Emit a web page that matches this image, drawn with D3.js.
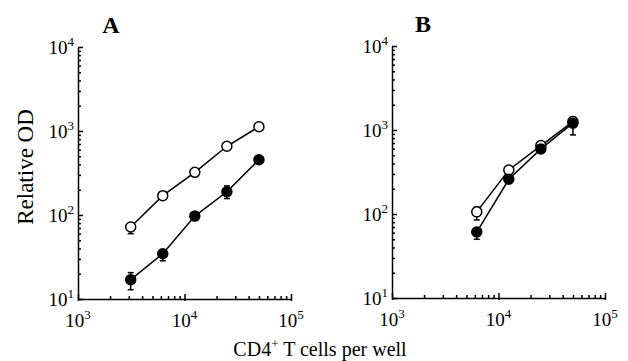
<!DOCTYPE html>
<html>
<head>
<meta charset="utf-8">
<script src="https://cdn.jsdelivr.net/npm/d3@7"></script>
<style>
  body { margin: 0; background: #fff; }
  svg { display: block; font-family: "Liberation Serif", "DejaVu Serif", serif; }
  .axis path, .axis line { stroke: #000; stroke-width: 1.5; }
</style>
</head>
<body>
<div id="chart"></div>
<script>
let width = 628;
let height = 361;

// cells per well
let cellsA = [3125, 6250, 12500, 25000, 50000];
let cellsB = [6250, 12500, 25000, 50000];

// relative OD, panel A
let openA = [72, 170, 322, 658, 1125];
let filledA = [17, 34.6, 97, 189, 455];
let openAErr = [[60, 78], null, null, null, null];
let filledAErr = [[12.9, 20.6], [28.5, 38], null, [157, 222], null];

// relative OD, panel B
let openB = [106, 334, 652, 1260];
let filledB = [61, 259, 596, 1205];
let openBErr = [[85, 121], null, null, [1100, 1420]];
let filledBErr = [[50, 66], null, null, [874, 1300]];

let decades = [3, 4, 5];
let yDecades = [1, 2, 3, 4];

let panels = [
    { label: 'A', left: 78, top: 47, cells: cellsA, open: openA, filled: filledA, openErr: openAErr, filledErr: filledAErr },
    { label: 'B', left: 392, top: 46, cells: cellsB, open: openB, filled: filledB, openErr: openBErr, filledErr: filledBErr }
];

let plotWidth = 213;
let plotHeight = 252;

let svg = d3.select('#chart')
    .append('svg')
    .attr('width', width)
    .attr('height', height);

let xScale = d3.scaleLog()
    .domain([1e3, 1e5])
    .range([0, plotWidth]);
let yScale = d3.scaleLog()
    .domain([10, 1e4])
    .range([plotHeight, 0]);

let minorX = [];
for (let e = 3; e < 5; e++) for (let m = 1; m < 10; m++) minorX.push(m * Math.pow(10, e));
minorX.push(1e5);
let minorY = [];
for (let e = 1; e < 4; e++) for (let m = 1; m < 10; m++) minorY.push(m * Math.pow(10, e));
minorY.push(1e4);
let isMajor = v => Math.abs(Math.log10(v) - Math.round(Math.log10(v))) < 1e-9;

panels.forEach(p => {
    let g = svg.append('g')
        .classed('plot', true)
        .attr('transform', `translate(${p.left},${p.top})`);

    let xAxis = d3.axisBottom(xScale)
        .tickValues(minorX)
        .tickFormat('')
        .tickSizeOuter(0);
    let xg = g.append('g')
        .classed('axis', true)
        .attr('transform', `translate(0,${plotHeight})`)
        .call(xAxis);
    xg.selectAll('.tick line')
        .attr('y1', d => isMajor(d) ? 2 : 0)
        .attr('y2', d => isMajor(d) ? -5 : -3);

    let yAxis = d3.axisLeft(yScale)
        .tickValues(minorY)
        .tickFormat('')
        .tickSizeOuter(0);
    let yg = g.append('g')
        .classed('axis', true)
        .call(yAxis);
    yg.selectAll('.tick line')
        .attr('x1', 0)
        .attr('x2', d => isMajor(d) ? 5 : 3);

    // tick labels with superscripts
    decades.forEach(e => {
        let t = g.append('text')
            .attr('x', xScale(Math.pow(10, e)))
            .attr('y', plotHeight + 28)
            .attr('text-anchor', 'middle')
            .style('font-size', '19px');
        t.append('tspan').text('10');
        t.append('tspan').attr('dy', -8).style('font-size', '13px').text(e);
    });
    yDecades.forEach(e => {
        let t = g.append('text')
            .attr('x', -4)
            .attr('y', yScale(Math.pow(10, e)) + 7)
            .attr('text-anchor', 'end')
            .style('font-size', '19px');
        t.append('tspan').text('10');
        t.append('tspan').attr('dy', -8).style('font-size', '13px').text(e);
    });

    g.append('text')
        .attr('x', p.label === 'A' ? 33 : 31)
        .attr('y', -14)
        .attr('text-anchor', 'middle')
        .style('font-size', '24px')
        .style('font-weight', 'bold')
        .text(p.label);

    let line = d3.line()
        .x(d => xScale(d[0]))
        .y(d => yScale(d[1]));

    [{ vals: p.open, err: p.openErr, fill: '#fff' }, { vals: p.filled, err: p.filledErr, fill: '#000' }].forEach(s => {
        let pts = p.cells.map((c, i) => [c, s.vals[i], s.err[i]]);
        g.append('path')
            .attr('d', line(pts))
            .attr('fill', 'none')
            .attr('stroke', '#000')
            .attr('stroke-width', 1.5);
        let eb = g.selectAll(null)
            .data(pts.filter(d => d[2]))
            .enter()
            .append('g')
            .attr('stroke', '#000')
            .attr('stroke-width', 1.5);
        eb.append('line')
            .attr('x1', d => xScale(d[0])).attr('x2', d => xScale(d[0]))
            .attr('y1', d => yScale(d[2][0])).attr('y2', d => yScale(d[2][1]));
        eb.append('line')
            .attr('x1', d => xScale(d[0]) - 3).attr('x2', d => xScale(d[0]) + 3)
            .attr('y1', d => yScale(d[2][0])).attr('y2', d => yScale(d[2][0]));
        eb.append('line')
            .attr('x1', d => xScale(d[0]) - 3).attr('x2', d => xScale(d[0]) + 3)
            .attr('y1', d => yScale(d[2][1])).attr('y2', d => yScale(d[2][1]));
        g.selectAll(null)
            .data(pts)
            .enter()
            .append('circle')
            .attr('cx', d => xScale(d[0]))
            .attr('cy', d => yScale(d[1]))
            .attr('r', 5)
            .attr('fill', s.fill)
            .attr('stroke', '#000')
            .attr('stroke-width', 1.5);
    });
});

svg.append('text')
    .attr('transform', 'translate(33,167) rotate(-90)')
    .attr('text-anchor', 'middle')
    .style('font-size', '23px')
    .text('Relative OD');

let xt = svg.append('text')
    .attr('x', 320)
    .attr('y', 356)
    .attr('text-anchor', 'middle')
    .style('font-size', '20px');
xt.append('tspan').text('CD4');
xt.append('tspan').attr('dy', -8).style('font-size', '13px').text('+');
xt.append('tspan').attr('dy', 8).text(' T cells per well');
</script>
</body>
</html>
